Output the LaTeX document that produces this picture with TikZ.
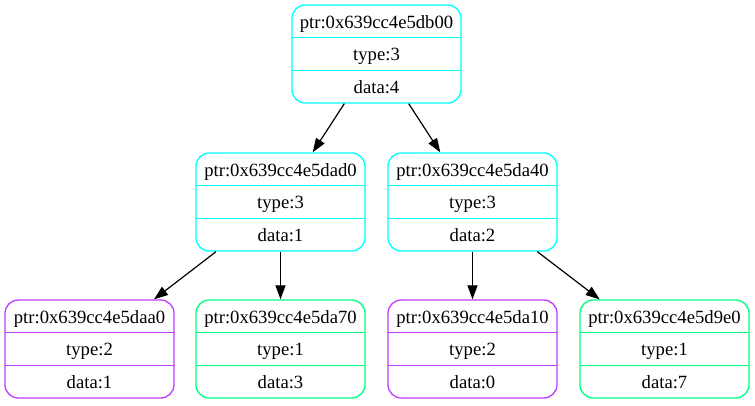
\documentclass[tikz,border=0pt]{standalone}
\usepackage{fontspec}
\setmainfont{Liberation Serif}
\usetikzlibrary{arrows.meta}

\definecolor{nodecyan}{RGB}{0,255,255}
\definecolor{nodepurple}{RGB}{191,62,255}
\definecolor{nodegreen}{RGB}{0,255,127}

\tikzset{
  recbox/.style={draw, rectangle, line width=1pt, rounded corners=10pt,
    minimum width=126.75pt, minimum height=73.5pt, inner sep=0pt},
  divider/.style={line width=1pt},
  field/.style={inner sep=0pt, anchor=base, font=\fontsize{14pt}{16pt}\selectfont},
  link/.style={line width=0.9pt, -{Triangle[length=10.5pt,width=7.5pt]}}
}

% one record: name, centre x, centre y, ptr, type, data, colour
\newcommand\recnode[7]{%
  \node[recbox, draw=#7] (#1) at (#2,#3) {};
  \draw[divider, #7] (#2-84.5,#3-16.33) -- (#2+84.5,#3-16.33);
  \draw[divider, #7] (#2-84.5,#3+16.33) -- (#2+84.5,#3+16.33);
  \node[field] (#1-p) at (#2,#3-25.9) {ptr:#4};
  \node[field] (#1-t) at (#2,#3+6.8) {type:#5};
  \node[field] (#1-d) at (#2,#3+39.4) {data:#6};
}

\begin{document}
\begin{tikzpicture}[x=0.75pt, y=-0.75pt]
  \useasboundingbox (0,0) rectangle (755,405);

  \recnode{root}{376.5}{54}{0x639cc4e5db00}{3}{4}{nodecyan}
  \recnode{ml}{280.5}{202}{0x639cc4e5dad0}{3}{1}{nodecyan}
  \recnode{mr}{472.5}{202}{0x639cc4e5da40}{3}{2}{nodecyan}
  \recnode{la}{89.5}{349}{0x639cc4e5daa0}{2}{1}{nodepurple}
  \recnode{lb}{280.5}{349}{0x639cc4e5da70}{1}{3}{nodegreen}
  \recnode{lc}{472.5}{349}{0x639cc4e5da10}{2}{0}{nodepurple}
  \recnode{ld}{664.5}{349}{0x639cc4e5d9e0}{1}{7}{nodegreen}

  \draw[link] (root) -- (ml);
  \draw[link] (root) -- (mr);
  \draw[link] (ml) -- (la);
  \draw[link] (ml) -- (lb);
  \draw[link] (mr) -- (lc);
  \draw[link] (mr) -- (ld);
\end{tikzpicture}
\end{document}
